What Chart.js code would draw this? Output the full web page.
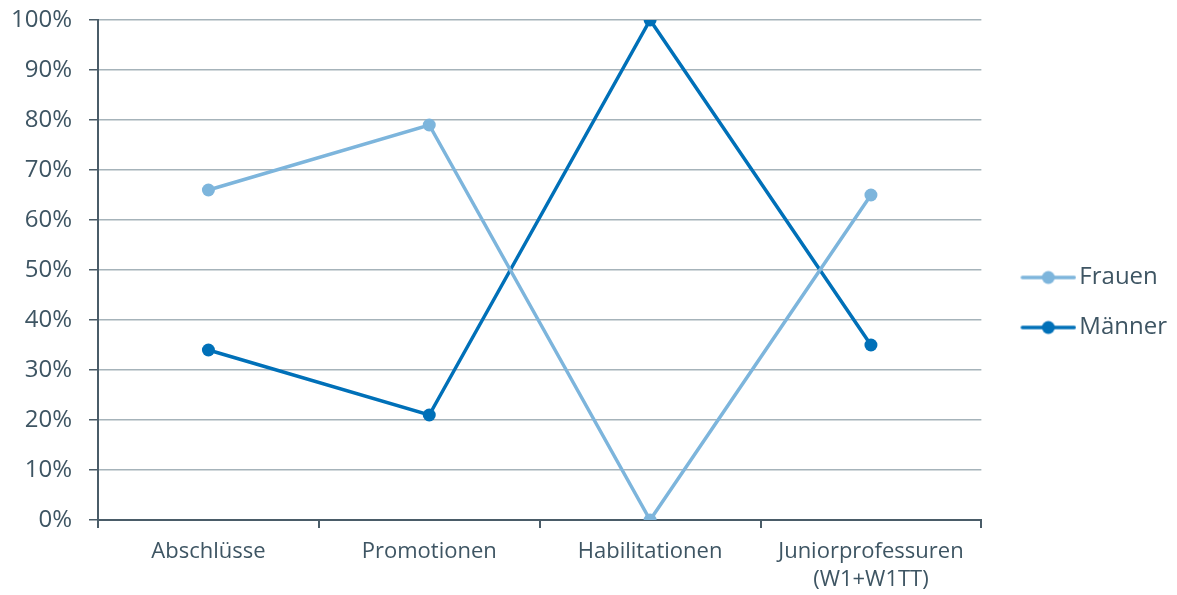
<!DOCTYPE html>
<html lang="de">
<head>
<meta charset="utf-8">
<title>Frauen und Männer nach Qualifikationsstufe</title>
<script src="https://cdn.jsdelivr.net/npm/chart.js@4/dist/chart.umd.min.js"></script>
<style>
  html, body { margin: 0; padding: 0; background: #ffffff; }
  #wrap { width: 1177px; height: 595px; position: relative; }
</style>
</head>
<body>
<div id="wrap"><canvas id="chart"></canvas></div>
<script>
// Daten
const kategorien = ['Abschlüsse', 'Promotionen', 'Habilitationen', ['Juniorprofessuren', '(W1+W1TT)']];
const frauen = [66, 79, 0, 65];
const maenner = [34, 21, 100, 35];

const FARBE_FRAUEN = '#7db5dc';
const FARBE_MAENNER = '#0070b8';
const TEXT = '#3e5563';
const ACHSE = '#4a5c68';
const GITTER = '#a6b3ba';
const SCHRIFT = "'Open Sans', 'Noto Sans', sans-serif";

// Legendensymbol: Linie mit Punkt, nach rechts versetzt im Bild
function legendenSymbol(farbe) {
    const c = document.createElement('canvas');
    c.width = 78;
    c.height = 16;
    const g = c.getContext('2d');
    g.strokeStyle = farbe;
    g.lineWidth = 3.5;
    g.lineCap = 'round';
    g.beginPath();
    g.moveTo(24, 8);
    g.lineTo(76, 8);
    g.stroke();
    g.fillStyle = farbe;
    g.beginPath();
    g.arc(50, 8, 6.5, 0, Math.PI * 2);
    g.fill();
    return c;
}

const symbole = [legendenSymbol(FARBE_FRAUEN), legendenSymbol(FARBE_MAENNER)];

new Chart(document.getElementById('chart'), {
    type: 'line',
    data: {
        labels: kategorien,
        datasets: [{
            label: 'Frauen',
            data: frauen,
            borderColor: FARBE_FRAUEN,
            backgroundColor: FARBE_FRAUEN,
            borderWidth: 3.5,
            pointRadius: 6.5,
            pointHoverRadius: 7,
            pointBorderWidth: 0,
            tension: 0
        }, {
            label: 'Männer',
            data: maenner,
            borderColor: FARBE_MAENNER,
            backgroundColor: FARBE_MAENNER,
            borderWidth: 3.5,
            pointRadius: 6.5,
            pointHoverRadius: 7,
            pointBorderWidth: 0,
            tension: 0
        }]
    },
    options: {
        responsive: true,
        maintainAspectRatio: false,
        animation: false,
        layout: {
            padding: { top: 0, right: 0, bottom: 0, left: 0 }
        },
        plugins: {
            legend: {
                position: 'right',
                // leerer Titel schiebt die Einträge etwas nach unten
                title: {
                    display: true,
                    text: '',
                    padding: 0,
                    font: { size: 8, lineHeight: 1.25 }
                },
                labels: {
                    color: TEXT,
                    usePointStyle: true,
                    pointStyleWidth: 60,
                    padding: 26,
                    font: { size: 24, family: SCHRIFT },
                    generateLabels: function (chart) {
                        return chart.data.datasets.map((ds, i) => ({
                            text: ds.label,
                            pointStyle: symbole[i],
                            fontColor: TEXT,
                            hidden: !chart.isDatasetVisible(i),
                            datasetIndex: i,
                            lineWidth: 0
                        }));
                    }
                }
            }
        },
        scales: {
            x: {
                offset: true,
                afterFit: function (scale) {
                    scale.height = 75;
                },
                grid: {
                    offset: true,
                    drawOnChartArea: false,
                    tickLength: 8,
                    tickColor: ACHSE,
                    lineWidth: 2
                },
                border: { color: ACHSE, width: 2 },
                ticks: {
                    color: TEXT,
                    padding: 10,
                    maxRotation: 0,
                    font: { size: 22, family: SCHRIFT, lineHeight: 1.27 }
                }
            },
            y: {
                min: 0,
                max: 100,
                afterFit: function (scale) {
                    scale.width = 98;
                    scale.paddingTop = 20;
                },
                grid: {
                    color: GITTER,
                    lineWidth: 1.5,
                    tickLength: 9,
                    tickColor: ACHSE
                },
                border: { color: ACHSE, width: 2 },
                ticks: {
                    stepSize: 10,
                    color: TEXT,
                    padding: 17,
                    font: { size: 24, family: SCHRIFT },
                    callback: v => v + '%'
                }
            }
        }
    }
});
</script>
</body>
</html>
